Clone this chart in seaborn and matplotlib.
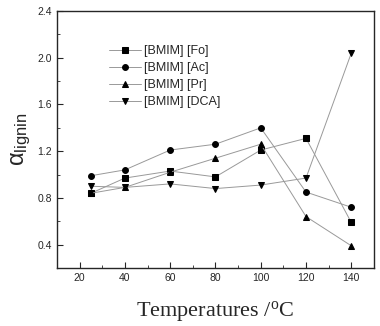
import pandas as pd
import numpy as np
import matplotlib
matplotlib.use('Agg')
import matplotlib.pyplot as plt
import seaborn as sns
from matplotlib.ticker import MultipleLocator

temps = [25, 40, 60, 80, 100, 120, 140]
fo = [0.84, 0.97, 1.03, 0.98, 1.21, 1.31, 0.59]
ac = [0.99, 1.04, 1.21, 1.26, 1.40, 0.85, 0.72]
pr = [0.84, 0.89, 1.02, 1.14, 1.26, 0.64, 0.39]
dca = [0.90, 0.89, 0.92, 0.88, 0.91, 0.97, 2.04]
labels = ['[BMIM] [Fo]', '[BMIM] [Ac]', '[BMIM] [Pr]', '[BMIM] [DCA]']
markers = ['s', 'o', '^', 'v']

# long-form table for seaborn
df = pd.concat([
    pd.DataFrame({'T': temps, 'alpha': vals, 'IL': lab})
    for vals, lab in zip([fo, ac, pr, dca], labels)
])

sns.set_style('ticks')
plt.rcParams['font.family'] = ['Liberation Sans', 'DejaVu Sans']

fig = plt.figure(figsize=(3.8, 3.26), dpi=100)
ax = fig.add_axes([0.15, 0.178, 0.834, 0.788])

sns.lineplot(data=df, x='T', y='alpha', hue='IL', style='IL',
             markers=markers, dashes=False, palette=['#999999'] * 4,
             markersize=4.2, markeredgecolor='black', markerfacecolor='black',
             linewidth=0.7, ax=ax)

ax.set_xlim(10, 150)
ax.set_ylim(0.2, 2.4)
ax.xaxis.set_major_locator(MultipleLocator(20))
ax.xaxis.set_minor_locator(MultipleLocator(10))
ax.yaxis.set_major_locator(MultipleLocator(0.4))
ax.yaxis.set_minor_locator(MultipleLocator(0.2))
ax.tick_params(which='both', direction='in', labelsize=7.5, top=False, right=False)
ax.tick_params(which='major', length=4)
ax.tick_params(which='minor', length=2.5)
ax.set_yticks([0.4, 0.8, 1.2, 1.6, 2.0, 2.4])
ax.set_yticklabels(['0.4', '0.8', '1.2', '1.6', '2.0', '2.4'])
for s in ax.spines.values():
    s.set_linewidth(1.0)

ax.set_xlabel(r'Temperatures /$\mathregular{^{o}}$C', family='Liberation Serif',
              fontsize=16, labelpad=12)
ax.set_ylabel(r'$\mathregular{\alpha_{lignin}}$', fontsize=17, labelpad=3)

handles, labs = ax.get_legend_handles_labels()
for h in handles:
    h.set_markerfacecolor('black')
    h.set_markeredgecolor('black')
    h.set_markersize(4.2)
ax.legend(handles, labs, loc='upper left', bbox_to_anchor=(0.13, 0.91),
          frameon=False, fontsize=9, handlelength=2.5, labelspacing=0.4,
          handletextpad=0.3, title=None)

fig.savefig('out.png', dpi=100)
